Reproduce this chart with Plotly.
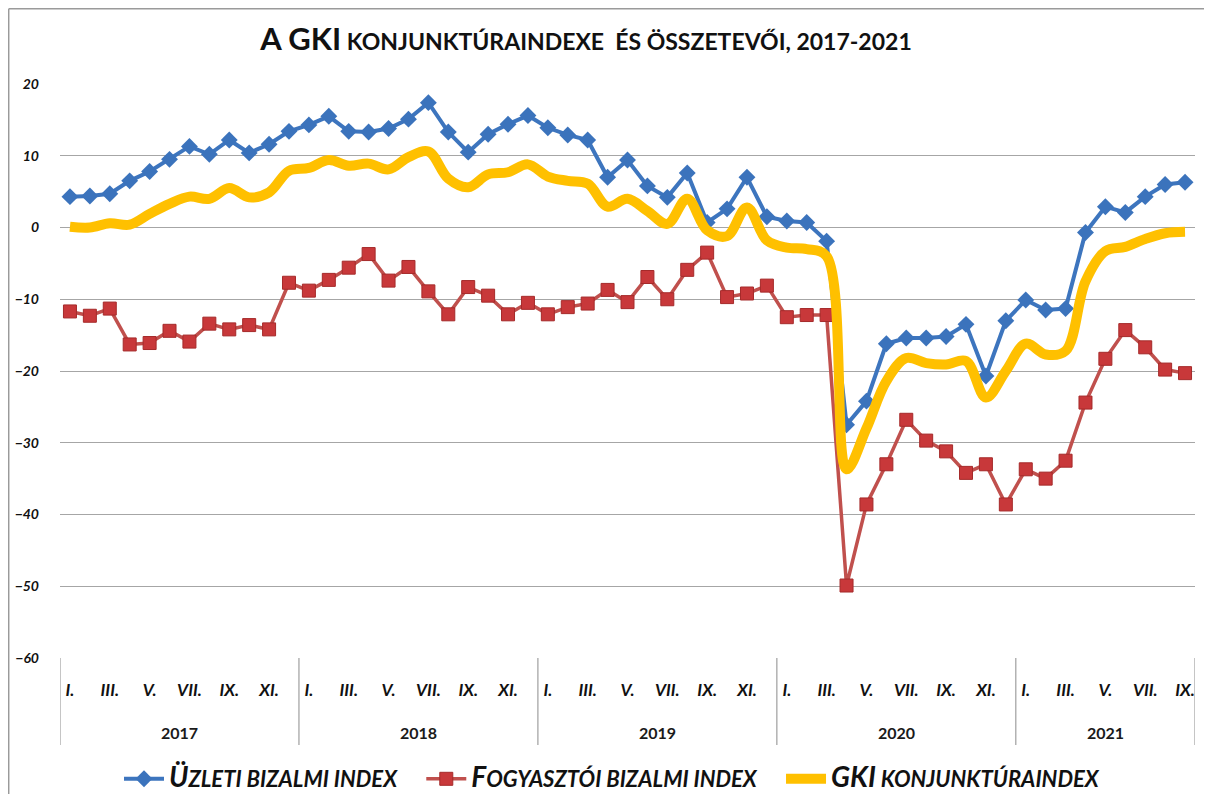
import plotly.graph_objects as go

# ---- data ----
months_idx = list(range(57))
month_tick_vals = [0, 2, 4, 6, 8, 10, 12, 14, 16, 18, 20, 22, 24, 26, 28, 30, 32, 34,
                   36, 38, 40, 42, 44, 46, 48, 50, 52, 54, 56]
month_tick_text = ["I.", "III.", "V.", "VII.", "IX.", "XI."] * 4 + ["I.", "III.", "V.", "VII.", "IX."]
years = ["2017", "2018", "2019", "2020", "2021"]
year_start = [0, 12, 24, 36, 48]
year_end = [11, 23, 35, 47, 56]

uzleti = [4.3, 4.4, 4.7, 6.5, 7.8, 9.5, 11.3, 10.2, 12.2, 10.4, 11.6, 13.4,
          14.3, 15.5, 13.4, 13.3, 13.8, 15.1, 17.4, 13.3, 10.5, 13.0, 14.4, 15.6,
          13.9, 12.9, 12.2, 7.0, 9.4, 5.8, 4.2, 7.6, 0.7, 2.6, 7.0, 1.5,
          0.9, 0.7, -1.9, -27.5, -24.2, -16.2, -15.4, -15.4, -15.2, -13.5, -20.7, -13.0,
          -10.1, -11.5, -11.3, -0.7, 2.9, 2.1, 4.3, 6.0, 6.3]
fogyasztoi = [-11.7, -12.3, -11.3, -16.3, -16.1, -14.4, -15.9, -13.4, -14.2, -13.6, -14.2, -7.7,
              -8.8, -7.3, -5.6, -3.7, -7.4, -5.5, -8.9, -12.1, -8.3, -9.5, -12.1, -10.5,
              -12.1, -11.1, -10.6, -8.7, -10.4, -6.9, -10.0, -5.9, -3.5, -9.7, -9.2, -8.1,
              -12.5, -12.2, -12.2, -49.9, -38.6, -33.0, -26.8, -29.7, -31.2, -34.2, -33.0, -38.6,
              -33.7, -35.0, -32.5, -24.4, -18.3, -14.3, -16.7, -19.8, -20.3]
gki = [0.1, 0.0, 0.6, 0.4, 1.9, 3.3, 4.3, 4.0, 5.5, 4.2, 4.9, 7.9,
       8.3, 9.4, 8.6, 8.9, 8.1, 9.8, 10.6, 6.8, 5.6, 7.4, 7.7, 8.8,
       7.1, 6.5, 6.1, 2.9, 4.0, 2.3, 0.5, 4.0, -0.4, -1.2, 2.8, -1.8,
       -2.8, -3.0, -4.0, -33.7, -28.0, -21.4, -18.2, -18.9, -19.1, -18.6, -23.7, -20.0,
       -16.2, -17.7, -17.2, -7.5, -3.3, -2.7, -1.6, -0.8, -0.6]

FONT = "Lato"
OFF = 8  # browser body margin
W, H = 1212 - OFF, 794 - OFF
# page-pixel targets: plot left 60, right 1195, top 84, bottom 658
L, T = 60 - OFF, 84 - OFF
R = W - (1195 - OFF)
B = H - (658 - OFF)
plot_h = H - T - B
plot_w = W - L - R


def py(page_y):
    """page pixel y -> paper y"""
    return ((658 - page_y)) / plot_h


def px(page_x):
    return (page_x - 60) / plot_w


GAP = "&#160;&#160;&#160;&#160;"

fig = go.Figure()
fig.add_trace(go.Scatter(
    x=months_idx, y=uzleti, mode="lines+markers",
    name="<span style='font-size:28px'>Ü</span>ZLETI BIZALMI INDEX" + GAP,
    line=dict(color="#3D75BE", width=4),
    marker=dict(symbol="diamond", size=13, color="#3B73BC"),
))
fig.add_trace(go.Scatter(
    x=months_idx, y=fogyasztoi, mode="lines+markers",
    name="<span style='font-size:28px'>F</span>OGYASZTÓI BIZALMI INDEX" + GAP,
    line=dict(color="#C0504D", width=3.5),
    marker=dict(symbol="square", size=13, color="#C8383A",
                line=dict(color="#A52A2A", width=1)),
))
fig.add_trace(go.Scatter(
    x=months_idx, y=gki, mode="lines",
    name="<span style='font-size:28px'>GKI</span> KONJUNKTÚRAINDEX",
    line=dict(color="#FFC000", width=10, shape="spline", smoothing=1.0),
))

shapes = []
# category band separators
for s in year_start + [year_end[-1] + 1]:
    shapes.append(dict(type="line", xref="x", yref="paper", x0=s - 0.5, x1=s - 0.5,
                       y0=0, y1=py(745),
                       line=dict(color="#A6A6A6", width=1.3)))
# outer frame (top and left)
shapes.append(dict(type="line", xref="paper", yref="paper",
                   x0=px(8.7), x1=px(1215),
                   y0=py(8.7), y1=py(8.7),
                   line=dict(color="#9A9A9A", width=1.5)))
shapes.append(dict(type="line", xref="paper", yref="paper",
                   x0=px(8.7), x1=px(8.7),
                   y0=py(8.7), y1=py(800),
                   line=dict(color="#9A9A9A", width=1.5)))

annotations = []
for yr, s, e in zip(years, year_start, year_end):
    annotations.append(dict(x=(s + e) / 2, y=py(732), xref="x", yref="paper",
                            xanchor="center", yanchor="middle",
                            text=yr, showarrow=False,
                            font=dict(family=FONT, size=16, color="#1a1a1a", weight="bold")))

fig.update_layout(
    width=W, height=H,
    margin=dict(l=L, r=R, t=T, b=B, autoexpand=False),
    paper_bgcolor="white", plot_bgcolor="white",
    title=dict(text="<span style='font-size:31px'>A GKI</span> KONJUNKTÚRAINDEXE  ÉS ÖSSZETEVŐI, 2017-2021",
               x=(586 - OFF) / W, xanchor="center", y=1 - (42 - OFF) / H, yanchor="middle",
               font=dict(family=FONT, size=23, color="#111", weight="bold")),
    xaxis=dict(range=[-0.5, 56.5], tickvals=month_tick_vals, ticktext=month_tick_text,
               showgrid=False, zeroline=False, showline=False, ticks="",
               ticklabelstandoff=20,
               tickfont=dict(family=FONT, size=17, color="#111", weight="bold", style="italic")),
    yaxis=dict(range=[-60, 20], dtick=10, showgrid=True, gridcolor="#A6A6A6", gridwidth=1.3,
               zeroline=True, zerolinecolor="#A6A6A6", zerolinewidth=1.3,
               showline=False, ticks="", ticklabelstandoff=20,
               tickfont=dict(family=FONT, size=14, color="#111", weight="bold", style="italic")),
    legend=dict(orientation="h", x=px(612), xanchor="center",
                y=py(779), yanchor="middle",
                itemwidth=40, traceorder="normal",
                font=dict(family=FONT, size=22, color="#111", weight="bold", style="italic")),
    shapes=shapes,
    annotations=annotations,
    showlegend=True,
)

fig.write_html("out.html")
